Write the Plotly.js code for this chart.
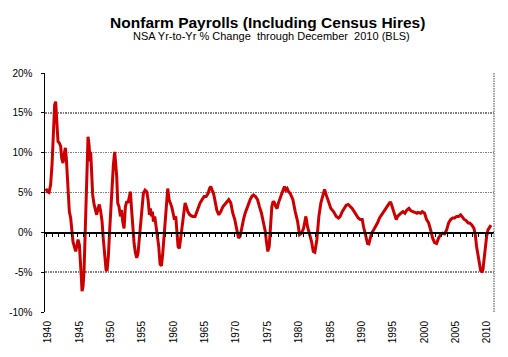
<!DOCTYPE html>
<html>
<head>
<meta charset="utf-8">
<script src="https://cdn.plot.ly/plotly-3.0.1.min.js"></script>
<style>html,body{margin:0;padding:0;background:#fff;}#chart{width:508px;height:357px;}</style>
</head>
<body>
<div id="chart"></div>
<script>
// Decimal-year positions of readings (Jan 1940 = 1940.00)
const years = [
1940.00,1940.21,1940.48,1940.74,1940.96,1941.17,1941.38,1941.54,1941.70,1941.91,
1942.13,1942.34,1942.50,1942.71,1942.92,1943.08,1943.24,1943.40,1943.56,1943.72,
1943.93,1944.15,1944.31,1944.52,1944.73,1944.94,1945.10,1945.32,1945.48,1945.64,
1945.74,1945.90,1946.06,1946.22,1946.38,1946.54,1946.70,1946.86,1947.02,1947.12,
1947.28,1947.44,1947.66,1947.87,1948.08,1948.29,1948.50,1948.72,1948.93,
1949.14,1949.36,1949.57,1949.73,1949.94,1950.15,1950.37,1950.58,1950.74,1950.95,
1951.11,1951.27,1951.43,1951.64,1951.86,1952.02,1952.23,1952.44,1952.65,1952.87,
1953.08,1953.29,1953.45,1953.61,1953.82,1954.04,1954.25,1954.46,1954.67,1954.89,
1955.10,1955.31,1955.52,1955.79,1956.06,1956.27,1956.48,1956.64,1956.80,1956.96,
1957.12,1957.33,1957.54,1957.76,1957.97,1958.18,
1958.40,1958.61,1958.82,1959.03,1959.25,1959.40,1959.62,1959.83,1960.04,1960.26,
1960.47,1960.68,1960.89,1961.05,1961.26,1961.48,1961.69,1961.90,1962.17,1962.38,
1962.60,1962.91,1963.34,1963.76,
1964.24,1964.56,1964.88,1965.20,1965.52,1965.84,1966.05,1966.26,1966.48,1966.69,
1966.90,1967.22,1967.54,1967.86,1968.18,1968.50,1968.81,1969.13,1969.45,1969.77,
1970.09,1970.41,1970.68,1970.94,1971.21,1971.47,1971.74,1972.00,1972.27,1972.54,
1972.80,1973.07,1973.39,1973.71,1974.03,1974.34,1974.66,1974.93,
1975.14,1975.35,1975.57,1975.78,1975.99,1976.20,1976.42,1976.63,1976.84,1977.05,
1977.37,1977.69,1978.01,1978.22,1978.44,1978.65,
1978.92,1979.35,1979.72,1980.09,1980.41,1980.73,1981.05,1981.42,1981.68,1982.00,
1982.32,1982.60,1982.85,1983.17,1983.49,1983.81,1984.13,1984.40,1984.66,1985.03,
1985.40,1985.83,1986.26,1986.63,
1986.89,1987.21,1987.53,1987.85,1988.17,1988.48,1988.80,1989.12,1989.44,1989.76,
1990.08,1990.40,1990.61,1990.82,1991.04,1991.25,1991.46,1991.67,1991.89,1992.21,
1992.53,1992.84,1993.16,1993.48,1993.80,1994.12,1994.44,1994.76,1994.97,1995.18,
1995.40,1995.61,1995.82,1996.03,1996.25,1996.57,1996.88,1997.20,1997.52,1997.84,
1998.16,1998.48,1998.80,1999.12,
1999.28,1999.70,1999.97,2000.34,2000.66,2000.98,2001.30,2001.61,2001.93,2002.25,
2002.57,2002.89,2003.21,2003.53,2003.85,2004.17,2004.49,2004.80,2005.12,2005.44,
2005.76,2006.08,2006.29,2006.61,2006.93,2007.25,2007.57,2007.89,2008.21,2008.42,
2008.63,2008.84,2009.06,2009.27,2009.48,2009.64,2009.80,2010.01,2010.23,2010.44,
2010.65,2010.92
];
// Year-over-year % change in nonfarm payrolls (NSA)
const pctChange = [
5.5,5.1,5.0,6.0,8.5,12.2,16.0,16.4,14.3,11.4,
11.2,10.8,9.3,8.7,9.9,10.6,9.3,6.4,4.3,2.6,
1.8,0.1,-1.2,-1.8,-2.4,-1.6,-0.9,-1.6,-3.2,-5.75,
-7.4,-6.8,-4.9,-0.3,4.7,10.1,12.0,11.0,8.9,10.1,
7.2,4.7,3.5,3.0,2.2,3.0,3.5,2.6,1.4,
-0.9,-3.0,-4.7,-4.8,-3.0,0.3,3.7,7.4,8.5,10.1,
8.7,7.0,3.7,3.2,2.0,2.8,1.35,0.5,3.2,3.9,
3.7,4.5,5.1,3.2,0.7,-1.4,-2.6,-3.2,-2.6,-0.5,
1.6,3.7,4.9,5.3,5.1,4.1,2.2,3.0,2.0,2.6,
1.35,2.0,0.9,-0.1,-1.8,-4.0,
-4.2,-2.6,-0.5,2.4,4.9,5.5,4.1,3.7,3.2,2.4,
1.6,2.0,-0.1,-1.8,-2.0,-0.5,1.2,2.4,3.7,3.2,
2.6,2.2,2.0,2.0,
3.2,3.7,4.1,4.5,4.5,4.9,5.5,5.75,5.3,4.9,
4.1,2.8,2.2,2.6,3.2,3.5,3.9,4.1,3.7,2.4,
1.6,0.3,-0.7,-0.5,0.7,1.6,2.4,3.0,3.7,4.1,
4.5,4.7,4.5,4.1,3.2,2.4,1.2,0.2,
-1.2,-2.4,-1.8,0.7,3.2,3.9,3.7,3.2,3.0,3.7,
4.5,5.1,5.75,5.3,5.5,5.1,
4.9,4.1,2.6,1.4,-0.3,-0.1,0.5,2.0,0.7,-0.1,
-1.15,-2.4,-2.5,-0.9,2.0,3.7,4.7,5.4,4.7,3.7,
3.0,2.6,2.0,1.8,
2.0,2.6,3.0,3.4,3.5,3.3,3.0,2.6,2.2,1.8,
1.6,1.6,0.7,-0.1,-0.9,-1.4,-1.45,-0.9,-0.1,0.3,
0.7,1.2,1.8,2.2,2.6,3.0,3.4,3.7,3.7,3.2,
2.6,2.0,1.6,2.0,2.2,2.4,2.6,2.4,2.8,3.0,
2.7,2.6,2.6,2.4,
2.5,2.4,2.6,2.4,1.6,1.2,0.3,-0.7,-1.3,-1.4,
-0.7,-0.3,-0.1,-0.2,0.3,1.2,1.6,1.8,1.8,2.0,
2.0,2.2,2.0,1.65,1.5,1.2,1.15,0.9,0.5,-0.3,
-1.8,-3.0,-4.1,-4.8,-4.9,-4.7,-3.5,-1.8,-0.5,0.3,
0.5,0.9
];
const xTickYears = [1940,1945,1950,1955,1960,1965,1970,1975,1980,1985,1990,1995,2000,2005,2010];
const xTickText = xTickYears.map(String);
const yTickVals = [-10,-5,0,5,10,15,20];
const yTickText = yTickVals.map(v => v + '%');

const FONT = 'Liberation Sans, Arial, sans-serif';
const xr = [1939.84, 2011.40];

const trace = {
  x: years, y: pctChange, type: 'scatter', mode: 'lines',
  line: {color: '#cc0000', width: 3}, hoverinfo: 'skip', showlegend: false
};
const traceZero = {
  x: years, y: pctChange, xaxis: 'x2', yaxis: 'y', type: 'scatter', mode: 'lines',
  line: {color: 'rgba(0,0,0,0)', width: 0}, hoverinfo: 'skip', showlegend: false
};

const layout = {
  width: 508, height: 357,
  margin: {l: 45, r: 14, t: 73, b: 45, pad: 0},
  paper_bgcolor: '#fff', plot_bgcolor: '#fff',
  font: {family: FONT, size: 10, color: '#000'},
  showlegend: false,
  title: {
    text: 'Nonfarm Payrolls (Including Census Hires)',
    font: {family: FONT, size: 15.5, weight: 'bold', color: '#000'},
    xref: 'container', x: 0.527, xanchor: 'center',
    yref: 'container', y: 0.937, yanchor: 'middle'
  },
  annotations: [{
    text: 'NSA Yr-to-Yr % Change&nbsp; through December&nbsp; 2010 (BLS)',
    xref: 'paper', yref: 'paper', x: 0.5045, y: 1.1548,
    xanchor: 'center', yanchor: 'middle', showarrow: false,
    font: {family: FONT, size: 11, color: '#000'}
  }],
  xaxis: {
    range: xr, tickmode: 'array', tickvals: xTickYears, ticktext: xTickText,
    tickangle: -90, ticks: '', showgrid: false, zeroline: false, showline: false,
    tickfont: {family: FONT, size: 10, color: '#000'}, ticklabelstandoff: 6,
    ticklabelshift: 2
  },
  xaxis2: {
    range: xr, overlaying: 'x', anchor: 'free', position: 1/3,
    showline: true, linecolor: '#000', linewidth: 1.5,
    ticks: 'outside', ticklen: 3, tickwidth: 1, tickcolor: '#000',
    tickmode: 'linear', tick0: 1940, dtick: 1,
    showticklabels: false, showgrid: false, zeroline: false
  },
  yaxis: {
    range: [-10, 20], tickmode: 'array', tickvals: yTickVals, ticktext: yTickText,
    showgrid: true, gridcolor: '#808080', gridwidth: 1.5, griddash: '1.5px,1px',
    showline: true, linecolor: '#000', linewidth: 1.5,
    ticks: 'outside', ticklen: 3, tickwidth: 1, tickcolor: '#000',
    zeroline: false, tickfont: {family: FONT, size: 10, color: '#000'},
    ticklabelstandoff: 6
  },
  shapes: [{
    type: 'line', xref: 'paper', yref: 'paper', x0: 1, x1: 1, y0: 0, y1: 1,
    line: {color: '#808080', width: 1.5, dash: '1.5px,1px'}
  }]
};

Plotly.newPlot('chart', [trace, traceZero], layout, {staticPlot: true, displayModeBar: false});
</script>
</body>
</html>
